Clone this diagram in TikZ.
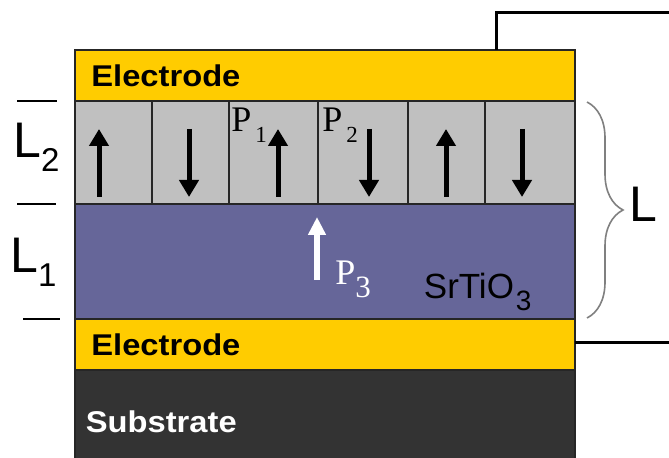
\documentclass[tikz,border=0pt]{standalone}
\usepackage{fontspec}
\setmainfont{Liberation Sans}
\newfontfamily\pfont{Liberation Serif}
\usetikzlibrary{arrows.meta,decorations.pathreplacing}
\definecolor{celec}{HTML}{FFCC00}
\definecolor{cpol}{HTML}{C0C0C0}
\definecolor{csto}{HTML}{666699}
\definecolor{csub}{HTML}{333333}
\definecolor{cbrace}{HTML}{808080}
\newcommand{\wide}[1]{\scalebox{1.09}[1]{#1}}
\newcommand{\lsub}[1]{\raisebox{-7pt}{\fontsize{16.5}{18}\selectfont #1}}
\newcommand{\psub}[1]{\hspace{2pt}\raisebox{-5.5pt}{\fontsize{11.5}{13}\selectfont #1}}
\tikzset{
  layer/.style={draw=black!85, line width=0.7pt},
  lbl/.style={inner sep=0pt, anchor=base west},
  eleclbl/.style={lbl, font=\fontsize{15}{18}\selectfont\bfseries},
  thk/.style={lbl, font=\fontsize{25}{30}\selectfont},
  plbl/.style={lbl, font=\pfont\fontsize{18}{21}\selectfont},
  dom/.style={-{Triangle[length=8.5pt,width=9.5pt]}, line width=2.5pt},
  wire/.style={line width=1.5pt},
  tick/.style={line width=0.7pt},
}

\begin{document}
\begin{tikzpicture}[x=0.5pt,y=-0.5pt]
\useasboundingbox (0,0) rectangle (669,458);
% layer stack
\draw[layer, fill=celec] (75,50) rectangle (575,101);
\draw[layer, fill=cpol] (75,101) rectangle (575,204);
\draw[layer, fill=csto] (75,204) rectangle (575,319);
\draw[layer, fill=celec] (75,319) rectangle (575,370);
\draw[layer, fill=csub] (75,370) rectangle (575,462);
\foreach \x in {152,229,318,408,485}
  \draw[layer] (\x,101) -- (\x,204);
% domains
\foreach \x/\d in {99/1,189/-1,278/1,369/-1,446/1,522/-1}
  \draw[dom] (\x,{163+34*\d}) -- (\x,{163-34*\d});
\draw[dom, white, line width=3pt, -{Triangle[length=9pt,width=8.5pt]}] (317,280) -- (317,217);
% labels
\node[eleclbl] (etop) at (91,87) {\wide{Electrode}};
\node[eleclbl] (ebot) at (91,356) {\wide{Electrode}};
\node[eleclbl, text=white] (sub) at (85.5,433) {\wide{Substrate}};
\node[lbl, font=\fontsize{17.5}{21}\selectfont] (sto) at (423.5,299)
  {SrTiO\hspace{1pt}\raisebox{-6pt}{\fontsize{14}{16}\selectfont 3}};
\node[plbl] (p1) at (231,132) {P\psub{1}};
\node[plbl] (p2) at (322,132) {P\psub{2}};
\node[plbl, text=white] (p3) at (335,285) {P\raisebox{-6.5pt}{\fontsize{15.5}{18}\selectfont 3}};
\node[thk] (l2) at (13,158) {L\lsub{2}};
\node[thk] (l1) at (10,273) {L\lsub{1}};
\node[thk] (ltot) at (629,222) {L};
% thickness marks
\draw[tick] (17,101) -- (57,101);
\draw[tick] (17,204) -- (56,204);
\draw[tick] (23,319) -- (60,319);
\draw[cbrace, line width=0.8pt, decorate, decoration={brace, amplitude=18pt}] (587,102) -- (587,318);
% leads
\coordinate (ttop) at (496,50);
\coordinate (tout) at (672,13);
\coordinate (bbot) at (575,343);
\coordinate (bout) at (672,343);
\draw[wire] (ttop) |- (tout);
\draw[wire] (bbot) -- (bout);
\end{tikzpicture}
\end{document}
